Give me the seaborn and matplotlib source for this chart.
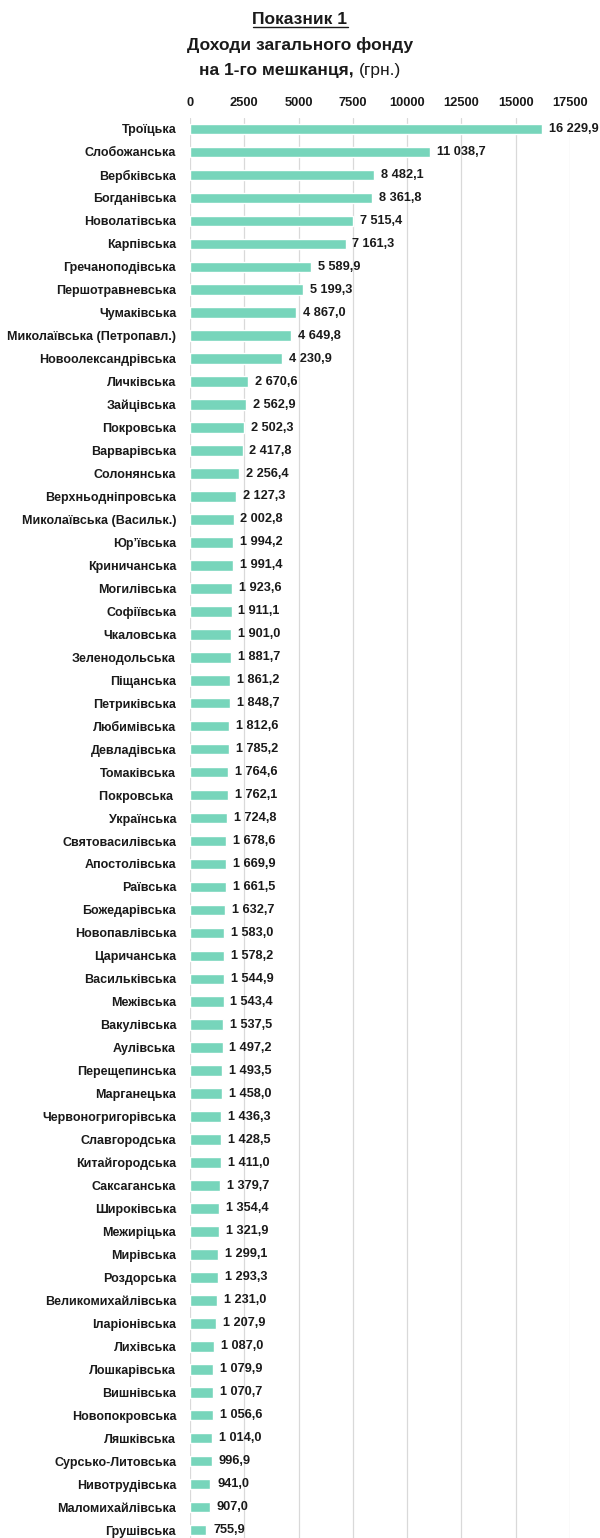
import matplotlib
matplotlib.use("Agg")
import matplotlib.pyplot as plt
import seaborn as sns
import pandas as pd
from matplotlib.lines import Line2D

# громади (second "Покровська" carries a trailing space so the category stays separate)
names = [
    "Троїцька", "Слобожанська", "Вербківська", "Богданівська", "Новолатівська",
    "Карпівська", "Гречаноподівська", "Першотравневська", "Чумаківська",
    "Миколаївська (Петропавл.)", "Новоолександрівська", "Личківська", "Зайцівська",
    "Покровська", "Варварівська", "Солонянська", "Верхньодніпровська",
    "Миколаївська (Васильк.)", "Юр’ївська", "Криничанська", "Могилівська",
    "Софіївська", "Чкаловська", "Зеленодольська", "Піщанська", "Петриківська",
    "Любимівська", "Девладівська", "Томаківська", "Покровська ", "Українська",
    "Святовасилівська", "Апостолівська", "Раївська", "Божедарівська",
    "Новопавлівська", "Царичанська", "Васильківська", "Межівська", "Вакулівська",
    "Аулівська", "Перещепинська", "Марганецька", "Червоногригорівська",
    "Славгородська", "Китайгородська", "Саксаганська", "Широківська",
    "Межиріцька", "Мирівська", "Роздорська", "Великомихайлівська",
    "Іларіонівська", "Лихівська", "Лошкарівська", "Вишнівська", "Новопокровська",
    "Ляшківська", "Сурсько-Литовська", "Нивотрудівська", "Маломихайлівська",
    "Грушівська",
]
values = [
    16229.9, 11038.7, 8482.1, 8361.8, 7515.4, 7161.3, 5589.9, 5199.3, 4867.0,
    4649.8, 4230.9, 2670.6, 2562.9, 2502.3, 2417.8, 2256.4, 2127.3, 2002.8,
    1994.2, 1991.4, 1923.6, 1911.1, 1901.0, 1881.7, 1861.2, 1848.7, 1812.6,
    1785.2, 1764.6, 1762.1, 1724.8, 1678.6, 1669.9, 1661.5, 1632.7, 1583.0,
    1578.2, 1544.9, 1543.4, 1537.5, 1497.2, 1493.5, 1458.0, 1436.3, 1428.5,
    1411.0, 1379.7, 1354.4, 1321.9, 1299.1, 1293.3, 1231.0, 1207.9, 1087.0,
    1079.9, 1070.7, 1056.6, 1014.0, 996.9, 941.0, 907.0, 755.9,
]
x_ticks = [0, 2500, 5000, 7500, 10000, 12500, 15000, 17500]

BAR_COLOR = "#77D5BB"
FONT = ["Liberation Sans", "DejaVu Sans"]

sns.set_theme(style="white")
plt.rcParams["font.family"] = FONT

df = pd.DataFrame({"name": names, "value": values})


def fmt(v):
    s = f"{v:,.1f}"
    return s.replace(",", " ").replace(".", ",")


fig = plt.figure(figsize=(6, 15.38), dpi=100)
ax = fig.add_axes([0.3167, -0.0023, 0.6333, 0.9259])

sns.barplot(data=df, x="value", y="name", color=BAR_COLOR, width=0.46,
            saturation=1, ax=ax, orient="h")

ax.set_xlim(0, 17500)
ax.set_ylim(len(names) - 0.5, -0.5)
ax.set_xticks(x_ticks)
ax.xaxis.tick_top()
ax.tick_params(axis="x", length=0, pad=6, labelsize=9.3)
ax.tick_params(axis="y", length=0, pad=10, labelsize=9)
for lbl in ax.get_xticklabels() + ax.get_yticklabels():
    lbl.set_fontweight("bold")
    lbl.set_color("#1a1a1a")
ax.set_xlabel("")
ax.set_ylabel("")
ax.grid(axis="x", color="#d9d9d9", linewidth=0.9)
ax.set_axisbelow(True)
for sp in ax.spines.values():
    sp.set_visible(False)

ax.bar_label(ax.containers[0], labels=[fmt(v) for v in values], padding=5,
             fontsize=9.2, fontweight="bold", color="#1a1a1a")

# title block
fig.canvas.draw()
renderer = fig.canvas.get_renderer()
t1 = fig.text(0.5, 1 - 20 / 1538, "Показник 1", ha="center", va="center",
              fontsize=12.5, fontweight="bold", color="#1a1a1a")
fig.text(0.5, 1 - 45 / 1538, "Доходи загального фонду", ha="center", va="center",
         fontsize=12.5, fontweight="bold", color="#1a1a1a")
bb = t1.get_window_extent(renderer).transformed(fig.transFigure.inverted())
fig.add_artist(Line2D([bb.x0, bb.x1], [bb.y0 + 0.0005, bb.y0 + 0.0005],
                      transform=fig.transFigure, color="#1a1a1a", linewidth=1))

y3 = 1 - 70 / 1538
a = fig.text(0, y3, "на 1-го мешканця, ", ha="left", va="center",
             fontsize=12.5, fontweight="bold", color="#1a1a1a")
b = fig.text(0, y3, "(грн.)", ha="left", va="center", fontsize=12.5,
             color="#1a1a1a")
wa = a.get_window_extent(renderer).width / fig.bbox.width
wb = b.get_window_extent(renderer).width / fig.bbox.width
x0 = 0.5 - (wa + wb) / 2
a.set_x(x0)
b.set_x(x0 + wa)

fig.savefig("out.png", dpi=100)
